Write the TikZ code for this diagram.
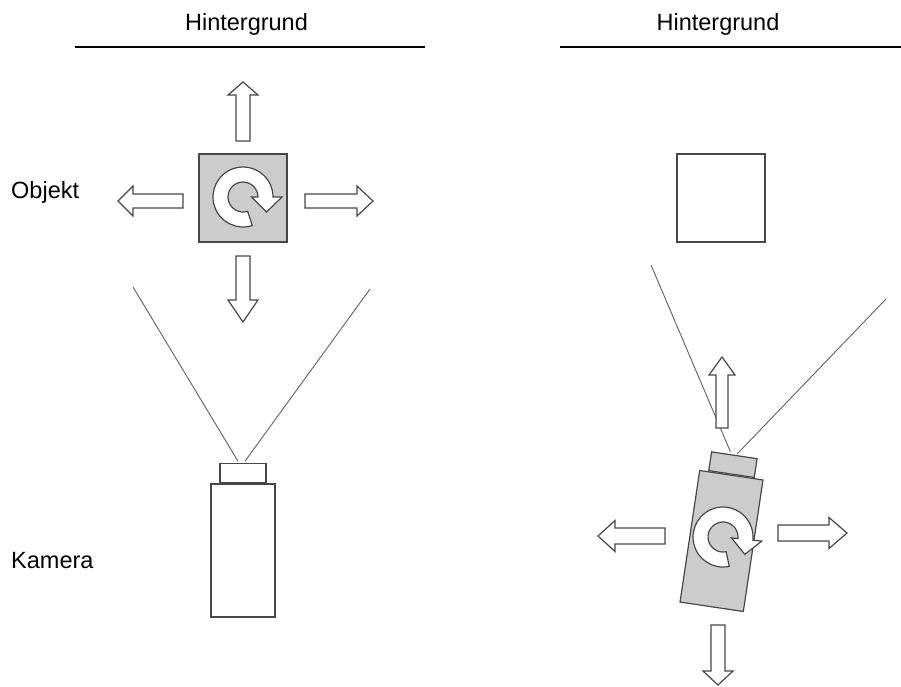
\documentclass[tikz,border=0pt]{standalone}
\usepackage{fontspec}
\setmainfont{Liberation Sans}
\usetikzlibrary{calc}

\tikzset{
  outline/.style={draw=black!72, line width=1.2pt, line join=miter},
  blockarrow/.style={outline, fill=white},
  objbox/.style={outline, minimum size=88pt, inner sep=0pt},
  cambody/.style={outline, minimum width=64pt, minimum height=133pt, inner sep=0pt},
  camlens/.style={outline, minimum width=46pt, minimum height=19pt, inner sep=0pt},
  grayfill/.style={fill=black!20},
  fan/.style={draw=black!62, line width=0.9pt},
  ground/.style={draw=black, line width=1.2pt},
  caption/.style={font=\fontsize{23.5}{27}\selectfont, inner sep=0pt},
}

% Block arrow: #1 shaft base, #2 direction, #3 length, #4 head length,
% #5 half shaft width, #6 half head width
\newcommand{\fatarrow}[6]{%
  \draw[blockarrow, shift={#1}, rotate=#2]
    (0,-#5) -- ({#3-#4},-#5) -- ({#3-#4},-#6) -- (#3,0)
    -- ({#3-#4},#6) -- ({#3-#4},#5) -- (0,#5) -- cycle;}

% Clockwise rotation symbol: #1 centre, #2 tilt
\newcommand{\spinarrow}[2]{%
  \draw[blockarrow, shift={#1}, rotate=#2]
    (288:30) arc[start angle=288, end angle=0, radius=30]
    -- (39,0) -- (23.5,-15) -- (8.5,0) -- (15,0)
    arc[start angle=0, end angle=288, radius=15] -- cycle;}

\begin{document}
\begin{tikzpicture}[x=1pt, y=1pt]
  \useasboundingbox (0,0) rectangle (901,-686);

  % backgrounds
  \node[caption, anchor=base] (bgL) at (246.5,-30) {Hintergrund};
  \node[caption, anchor=base] (bgR) at (718,-30) {Hintergrund};
  \coordinate (gL1) at (75,-47);  \coordinate (gL2) at (425,-47);
  \coordinate (gR1) at (560,-47); \coordinate (gR2) at (901,-47);
  \draw[ground] (gL1) -- (gL2);
  \draw[ground] (gR1) -- (gR2);

  % side labels
  \node[caption, anchor=base west] (lblObj) at (11,-198) {Objekt};
  \node[caption, anchor=base west] (lblCam) at (11,-568) {Kamera};

  % ---------- left: object moves, camera fixed ----------
  \node[objbox, grayfill] (objL) at (243,-198) {};
  \spinarrow{(243,-197)}{0}
  \fatarrow{(243,-141)}{90}{59}{13}{7}{15}
  \fatarrow{(243,-256)}{-90}{66}{22}{7}{15}
  \fatarrow{(183,-201)}{180}{65}{15}{7}{15}
  \fatarrow{(305,-201)}{0}{68}{16}{7}{15}

  \node[cambody, fill=white] (camL) at (243,-550.5) {};
  \node[camlens, fill=white, anchor=south] (lensL) at (camL.north) {};

  \coordinate (fanL1) at (133,-287);
  \coordinate (fanL2) at (370,-289);
  \draw[fan] (fanL1) -- ([xshift=-5pt,yshift=2pt]lensL.north);
  \draw[fan] (fanL2) -- ([xshift=2pt,yshift=2pt]lensL.north);

  % ---------- right: object fixed, camera moves ----------
  \node[objbox, fill=white] (objR) at (721,-198) {};

  \coordinate (fanR1) at (651,-265);
  \coordinate (fanR2) at (886,-299);

  \node[cambody, grayfill, rotate=-8.5] (camR) at (721.5,-541) {};
  \node[camlens, grayfill, rotate=-8.5, anchor=south] (lensR) at (camR.north) {};
  \spinarrow{(723,-537)}{-6}

  \draw[fan] (fanR1) -- ([xshift=-4pt,yshift=3pt]lensR.north);
  \draw[fan] (fanR2) -- ([xshift=3pt,yshift=1pt]lensR.north);

  \fatarrow{(722,-428)}{90}{71}{18}{6}{13}
  \fatarrow{(665,-536)}{180}{67}{17}{8}{15.5}
  \fatarrow{(778,-533)}{0}{69}{18}{8}{15.5}
  \fatarrow{(718,-625)}{-90}{60}{14}{7}{15}
\end{tikzpicture}
\end{document}
